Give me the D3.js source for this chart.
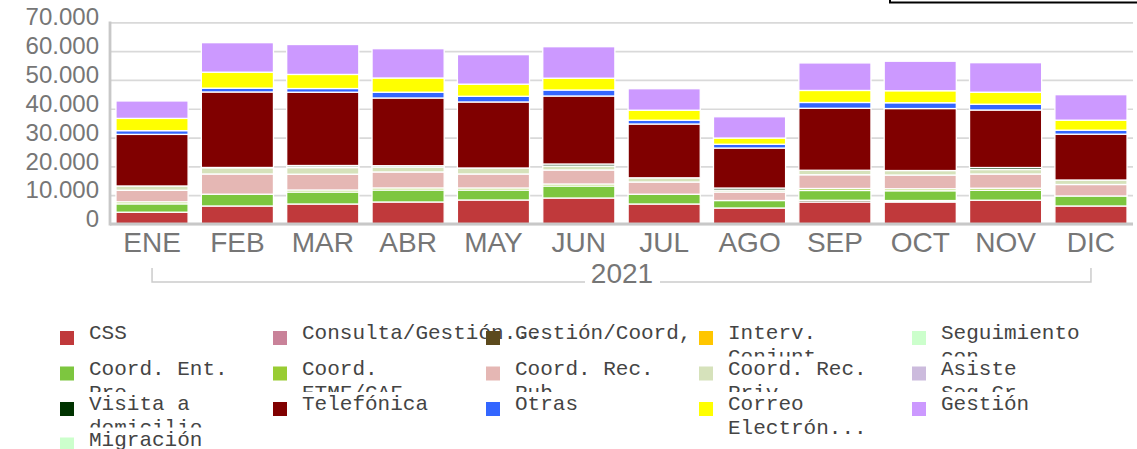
<!DOCTYPE html>
<html>
<head>
<meta charset="utf-8">
<script src="https://cdn.jsdelivr.net/npm/d3@7"></script>
<style>
body { margin: 0; background: #fff; }
svg { display: block; }
</style>
</head>
<body>
<div id="chart"></div>
<script>

// months on the x axis, one year group below
var months = ["ENE", "FEB", "MAR", "ABR", "MAY", "JUN", "JUL", "AGO", "SEP", "OCT", "NOV", "DIC"];
var yearLabel = "2021";
var yTicks = [0, 10000, 20000, 30000, 40000, 50000, 60000, 70000];
var yTickLabels = ["0", "10.000", "20.000", "30.000", "40.000", "50.000", "60.000", "70.000"];

// series values, stacked bottom to top in this order
var css          = [4100, 6250, 6940, 7640, 8330, 9020, 6940, 5550, 7640, 7640, 8260, 6250];
var consulta     = [0, 0, 0, 0, 0, 0, 0, 0, 0, 0, 0, 0];
var gestionCoord = [0, 0, 0, 0, 0, 0, 0, 0, 600, 0, 0, 0];
var interv       = [0, 0, 0, 0, 0, 0, 0, 0, 0, 0, 0, 0];
var seguimiento  = [0, 0, 0, 0, 0, 0, 0, 0, 0, 500, 0, 0];
var entPre       = [2900, 4100, 4170, 4170, 3470, 4170, 3400, 2600, 3400, 3400, 3470, 3470];
var etmf         = [700, 0, 690, 700, 700, 690, 0, 0, 690, 690, 690, 0];
var recPub       = [4000, 7010, 5480, 5550, 4860, 4860, 4230, 2950, 4760, 4760, 4930, 3990];
var recPriv      = [1500, 2160, 2300, 1670, 2080, 1390, 1460, 690, 1560, 1560, 1560, 1560];
var asiste       = [0, 100, 200, 0, 0, 0, 0, 0, 0, 0, 0, 0];
var visita       = [0, 0, 520, 500, 0, 690, 0, 690, 0, 0, 690, 0];
var telefonica   = [17900, 26200, 25440, 23500, 22910, 23600, 18670, 13880, 21520, 21520, 19960, 15900];
var otras        = [1300, 1320, 1280, 2010, 1980, 2080, 1320, 1320, 2010, 2010, 2010, 1390];
var correo       = [4250, 5550, 4890, 4930, 4200, 4100, 3470, 2150, 4170, 4170, 4170, 3470];
var gestion      = [6050, 10240, 10380, 10170, 10240, 10930, 7460, 7390, 9550, 10240, 10240, 8850];
var migracion    = [0, 0, 0, 0, 0, 0, 0, 0, 0, 0, 0, 0];

var seriesKeys = ["CSS", "Consulta/Gestión", "Gestión/Coord", "Interv. Conjunta", "Seguimiento con",
  "Coord. Ent. Pre", "Coord. ETMF/CAF", "Coord. Rec. Pub", "Coord. Rec. Priv", "Asiste Seg Gr",
  "Visita a domicilio", "Telefónica", "Otras", "Correo Electrónico", "Gestión", "Migración"];
var seriesValues = [css, consulta, gestionCoord, interv, seguimiento, entPre, etmf, recPub, recPriv,
  asiste, visita, telefonica, otras, correo, gestion, migracion];
var seriesColors = ["#c0393b", "#c98299", "#5c4a1d", "#ffc600", "#ccffcc", "#7dc63f", "#99cc33", "#e5b7b4",
  "#d6e2bb", "#ccbbdd", "#003300", "#800000", "#3366ff", "#ffff00", "#cc99ff", "#ccffcc"];
// legend text as it wraps in the reference
var legendLines = [["CSS"], ["Consulta/Gestión..."], ["Gestión/Coord,"], ["Interv.", "Conjunt..."], ["Seguimiento", "con..."],
  ["Coord. Ent.", "Pre..."], ["Coord.", "ETMF/CAF"], ["Coord. Rec.", "Pub..."], ["Coord. Rec.", "Priv..."], ["Asiste", "Seg Gr..."],
  ["Visita a", "domicilio"], ["Telefónica"], ["Otras"], ["Correo", "Electrón..."], ["Gestión"],
  ["Migración"]];

// build table for the stack
var table = months.map(function(m, i) {
  var row = { month: m };
  seriesKeys.forEach(function(k, j) { row[k] = seriesValues[j][i]; });
  return row;
});

var w = 1137, h = 449;
var svg = d3.select("#chart").append("svg")
  .attr("width", w)
  .attr("height", h);

// plot edges (not "top": that name is taken by window.top)
var plotL = 110, plotR = 1133, plotB = 224, plotT = 22.3;

var xScale = d3.scaleBand()
  .domain(months)
  .range([plotL, plotR])
  .paddingInner(0.155)
  .paddingOuter(0.07);
var yScale = d3.scaleLinear()
  .domain([0, 70000])
  .range([plotB, plotT]);
var color = d3.scaleOrdinal().domain(seriesKeys).range(seriesColors);

// grid + y labels
var yg = svg.append("g")
  .attr("transform", "translate(" + plotL + ",0)")
  .call(d3.axisLeft(yScale)
    .tickValues(yTicks)
    .tickSize(-(plotR - plotL))
    .tickPadding(11)
    .tickFormat(function(d, i) { return yTickLabels[i]; }));
yg.select(".domain").remove();
yg.selectAll("line").attr("stroke", "#d9d9d9").attr("stroke-width", 1.7);
yg.selectAll("text")
  .attr("dy", "0.11em")
  .attr("fill", "#767676")
  .style("font-family", "'Liberation Sans', Arial, sans-serif")
  .style("font-size", "24px");

// stacked bars
var stacked = d3.stack().keys(seriesKeys)(table);
svg.append("g").selectAll("g")
  .data(stacked)
  .enter()
  .append("g")
  .attr("fill", function(d) { return color(d.key); })
  .selectAll("rect")
  .data(function(d) { return d; })
  .enter()
  .append("rect")
  .attr("x", function(d) { return xScale(d.data.month); })
  .attr("width", xScale.bandwidth())
  .attr("y", function(d) { return yScale(d[1]); })
  .attr("height", function(d) { return yScale(d[0]) - yScale(d[1]); })
  .attr("stroke", "#fff")
  .attr("stroke-width", function(d) { return d[1] > d[0] ? 1.3 : 0; });

// axis lines
svg.append("line")
  .attr("x1", plotL).attr("x2", plotL)
  .attr("y1", plotT - 0.8).attr("y2", plotB + 1.5)
  .attr("stroke", "#c8c8c8").attr("stroke-width", 2.8);
svg.append("line")
  .attr("x1", plotL).attr("x2", plotR)
  .attr("y1", plotB).attr("y2", plotB)
  .attr("stroke", "#c8c8c8").attr("stroke-width", 3);

// month labels
var xg = svg.append("g")
  .attr("transform", "translate(0," + plotB + ")")
  .call(d3.axisBottom(xScale).tickSize(0).tickPadding(8));
xg.select(".domain").remove();
xg.selectAll("text")
  .attr("fill", "#767676")
  .style("font-family", "'Liberation Sans', Arial, sans-serif")
  .style("font-size", "28px");

// year group bracket
var x0 = xScale(months[0]) + xScale.bandwidth() / 2;
var x1 = xScale(months[months.length - 1]) + xScale.bandwidth() / 2;
var xm = (plotL + plotR) / 2 + 0.5;
var bracket = svg.append("g").attr("stroke", "#cccccc").attr("stroke-width", 1.5).attr("fill", "none");
bracket.append("path").attr("d", "M" + x0 + ",268V282H" + (xm - 37));
bracket.append("path").attr("d", "M" + (xm + 38) + ",282H" + x1 + "V268");
svg.append("text")
  .attr("x", xm)
  .attr("y", 283)
  .attr("text-anchor", "middle")
  .attr("fill", "#767676")
  .style("font-family", "'Liberation Sans', Arial, sans-serif")
  .style("font-size", "28px")
  .text(yearLabel);

// legend box edge at top right
svg.append("rect")
  .attr("x", 890).attr("y", -40)
  .attr("width", 300).attr("height", 42.5)
  .attr("fill", "none")
  .attr("stroke", "#000")
  .attr("stroke-width", 2);

// legend, 5 columns
var legendX = 60, legendColW = 213, legendY = 339, legendRowH = 35.5, lineH = 24;
var items = svg.append("g").selectAll("g")
  .data(seriesKeys)
  .enter()
  .append("g")
  .attr("transform", function(d, i) {
    return "translate(" + (legendX + (i % 5) * legendColW) + "," + (legendY + Math.floor(i / 5) * legendRowH) + ")";
  });
// white band hides the overflow of the row above
items.filter(function(d, i) { return i >= 5; })
  .append("rect")
  .attr("x", -2).attr("y", -18)
  .attr("width", legendColW).attr("height", 14)
  .attr("fill", "#fff");
items.append("rect")
  .attr("x", 0).attr("y", -8)
  .attr("width", 14).attr("height", 14)
  .attr("fill", function(d) { return color(d); });
items.append("text")
  .attr("x", 29)
  .attr("fill", "#444")
  .style("font-family", "'Liberation Mono', 'Courier New', monospace")
  .style("font-size", "21px")
  .selectAll("tspan")
  .data(function(d, i) { return legendLines[i]; })
  .enter()
  .append("tspan")
  .attr("x", 29)
  .attr("y", function(d, i) { return i * lineH; })
  .text(function(d) { return d; });

</script>
</body>
</html>
